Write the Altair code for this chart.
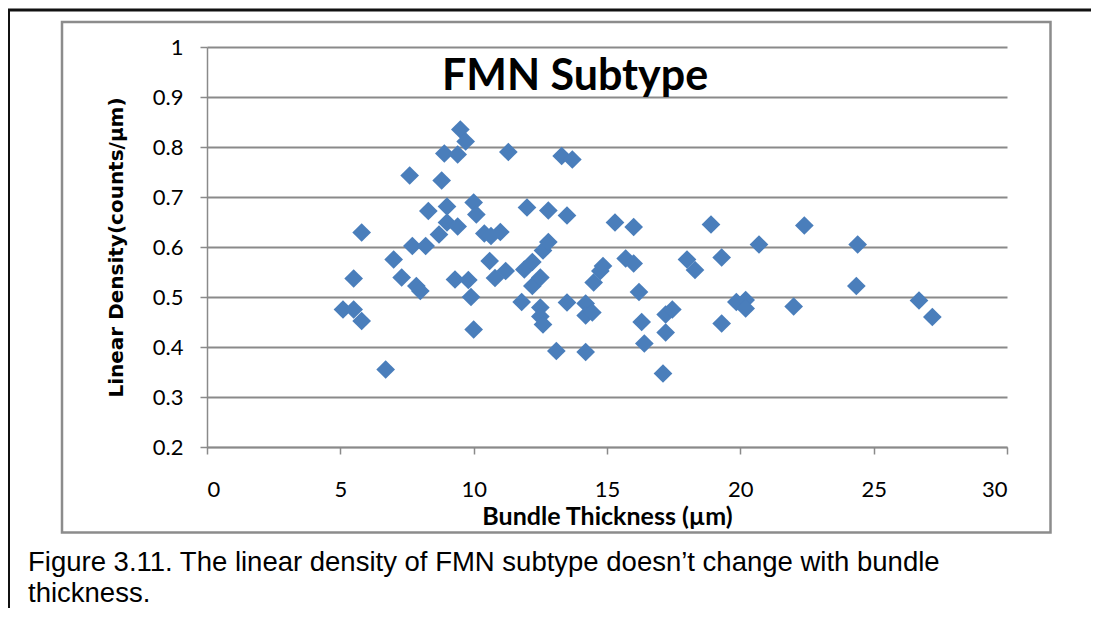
import altair as alt
import pandas as pd

# Bundle thickness (µm) and linear density (counts/µm)
bundle_thickness = [5.1, 5.5, 5.5, 5.8, 5.8, 6.7, 7.0, 7.3, 7.6, 7.7, 7.85, 8.0, 8.2, 8.3, 8.7,
                    8.8, 8.9, 9.0, 9.0, 9.3, 9.4, 9.4, 9.5, 9.7, 9.8, 9.9, 10.0, 10.0, 10.1, 10.4,
                    10.65, 10.6, 10.8, 11.0, 11.2, 11.3, 11.8, 11.9, 12.0, 12.2, 12.2, 12.5, 12.5,
                    12.5, 12.6, 12.6, 12.8, 12.8, 13.1, 13.3, 13.5, 13.5, 13.7, 14.2, 14.2, 14.2,
                    14.45, 14.5, 14.75, 14.85, 15.3, 15.7, 16.0, 16.0, 16.2, 16.3, 16.4, 17.1, 17.2,
                    17.2, 17.45, 18.0, 18.3, 18.9, 19.3, 19.3, 19.85, 20.2, 20.2, 20.7, 22.0, 22.4,
                    24.4, 24.35, 26.7, 27.2]
linear_density = [0.475, 0.475, 0.537, 0.452, 0.629, 0.355, 0.575, 0.539, 0.743, 0.602, 0.522,
                  0.512, 0.602, 0.672, 0.625, 0.733, 0.787, 0.681, 0.649, 0.535, 0.641, 0.785,
                  0.835, 0.811, 0.534, 0.500, 0.435, 0.689, 0.665, 0.627, 0.622, 0.572, 0.538,
                  0.630, 0.552, 0.790, 0.490, 0.555, 0.679, 0.570, 0.522, 0.539, 0.479, 0.461,
                  0.445, 0.593, 0.610, 0.673, 0.392, 0.782, 0.663, 0.489, 0.775, 0.487, 0.463,
                  0.390, 0.469, 0.529, 0.552, 0.562, 0.649, 0.577, 0.640, 0.567, 0.510, 0.450,
                  0.407, 0.347, 0.465, 0.429, 0.475, 0.575, 0.554, 0.645, 0.579, 0.447, 0.490,
                  0.494, 0.477, 0.605, 0.481, 0.643, 0.605, 0.522, 0.493, 0.460]

x_ticks = [0, 5, 10, 15, 20, 25, 30]
y_ticks = [0.2, 0.3, 0.4, 0.5, 0.6, 0.7, 0.8, 0.9, 1.0]

chart_title = "FMN Subtype"
x_title = "Bundle Thickness (µm)"
y_title = "Linear Density(counts/µm)"
caption_lines = ["Figure 3.11. The linear density of FMN subtype doesn\u2019t change with bundle",
                 "thickness."]

df = pd.DataFrame({"thickness": bundle_thickness, "density": linear_density})
one = pd.DataFrame({"k": [0]})

GRID = "#8a8a8a"

points = alt.Chart(df).mark_point(
    shape="diamond", filled=True, size=350, color="#4A7EBB", opacity=1, strokeWidth=0
).encode(
    x=alt.X("thickness:Q",
            scale=alt.Scale(domain=[0, 30], nice=False, zero=False),
            axis=alt.Axis(values=x_ticks, grid=False, title=x_title,
                          titleY=77, titleBaseline="alphabetic",
                          labelBaseline="alphabetic", labelPadding=42,
                          tickSize=7, format="d")),
    y=alt.Y("density:Q",
            scale=alt.Scale(domain=[0.2, 1.0], nice=False, zero=False),
            axis=alt.Axis(values=y_ticks, grid=True, title=y_title, format="~g",
                          tickSize=7, labelPadding=17,
                          titleX=-91, titleY=200, titleAngle=270,
                          titleAlign="center", titleBaseline="middle",
                          titleFont="DejaVu Sans", titleFontSize=20, titleFontWeight="bold")),
)

frame = alt.Chart(one).mark_rect(fillOpacity=0, stroke="#8c8c8c", strokeWidth=2.5).encode(
    x=alt.value(-145), x2=alt.value(843.5), y=alt.value(-25), y2=alt.value(485.5)
)

top_line = alt.Chart(one).mark_rule(color="#111111", strokeWidth=3).encode(
    x=alt.value(-199), x2=alt.value(884), y=alt.value(-37)
)
left_line = alt.Chart(one).mark_rule(color="#111111", strokeWidth=2).encode(
    x=alt.value(-198), y=alt.value(-38), y2=alt.value(561)
)

title_text = alt.Chart(one).mark_text(
    text=chart_title, font="Lato", fontSize=43, fontWeight="bold", color="#000000",
    align="center", baseline="alphabetic"
).encode(x=alt.value(368), y=alt.value(43))

cap1 = alt.Chart(one).mark_text(
    text=caption_lines[0], font="Liberation Sans", fontSize=27.5, color="#000000",
    align="left", baseline="alphabetic"
).encode(x=alt.value(-179), y=alt.value(524))
cap2 = alt.Chart(one).mark_text(
    text=caption_lines[1], font="Liberation Sans", fontSize=27.5, color="#000000",
    align="left", baseline="alphabetic"
).encode(x=alt.value(-179), y=alt.value(555))

chart = alt.layer(frame, top_line, left_line, points, title_text, cap1, cap2).properties(
    width=800, height=400,
    padding={"left": 199, "top": 39, "right": 84, "bottom": 161},
    autosize=alt.AutoSizeParams(type="none"),
    background="white",
).configure_view(strokeWidth=0).configure_axis(
    domainColor=GRID, domainWidth=1.5, tickColor=GRID, tickWidth=1.5,
    gridColor=GRID, gridWidth=2, gridOpacity=1,
    labelFont="Lato", labelFontSize=22, labelColor="#000000",
    titleFont="Lato", titleFontSize=25, titleFontWeight="bold", titleColor="#000000",
)

chart.save("out.html", embed_options={"renderer": "svg", "actions": False})
